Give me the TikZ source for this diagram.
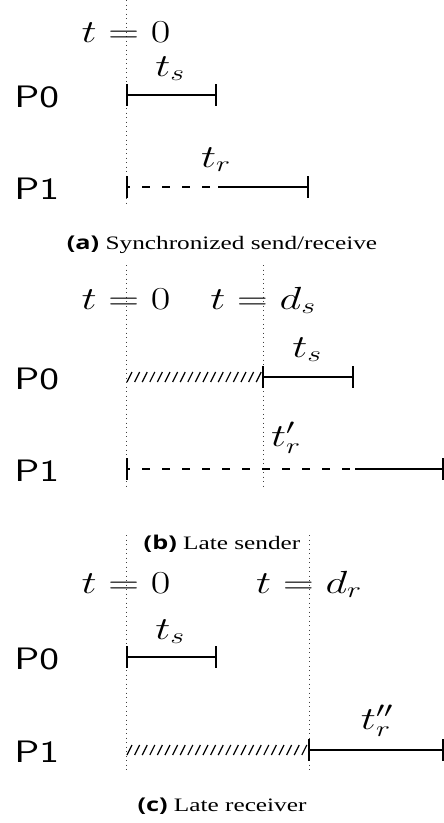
\RequirePackage{fix-cm}
\documentclass[tikz,border=0pt]{standalone}
\usepackage[no-math]{fontspec}
\newfontfamily\capfont{Liberation Serif}
\newfontfamily\lblfont{Open Sans}
\begin{document}
\begin{tikzpicture}[x=1pt,y=-1pt,
  vline/.style={line width=0.9pt, dash pattern=on 0.9pt off 3.6pt, black!75},
  seg/.style={line width=2pt},
  waitline/.style={line width=2pt, dash pattern=on 8pt off 12pt, dash phase=5pt},
  tickmark/.style={line width=2.4pt},
  hatchline/.style={line width=1.2pt},
  mathlbl/.style={inner sep=0pt, font=\fontsize{32}{36}\selectfont, xscale=1.33, transform shape},
  proc/.style={inner sep=0pt, font=\fontsize{31}{36}\selectfont\sffamily, xscale=1.35, transform shape},
  capt/.style={inner sep=0pt, font=\fontsize{19}{22}\selectfont\capfont, xscale=1.33, transform shape}]
\useasboundingbox (0,0) rectangle (444,823);

% ---------------- (a) ----------------
\coordinate (aT) at (126,0);   \coordinate (aB) at (126,205);
\draw[vline] (aT) -- (aB);
\node[mathlbl, anchor=base] (a-t0) at (126,42) {$t = 0$};
\node[proc, anchor=base west] (a-p0) at (14,107) {P0};
\node[proc, anchor=base west] (a-p1) at (14,199) {P1};
\coordinate (a0s) at (127,95);  \coordinate (a0e) at (216,95);
\draw[seg] (a0s) -- (a0e);
\draw[tickmark] (a0s) ++(0,-11) -- ++(0,22);
\draw[tickmark] (a0e) ++(0,-11) -- ++(0,22);
\node[mathlbl, anchor=base] (a-ts) at (170,76) {$t_s$};
\coordinate (a1s) at (127,187); \coordinate (a1m) at (218,187); \coordinate (a1e) at (308,187);
\draw[waitline] (a1s) -- (a1m);
\draw[seg] (a1m) -- (a1e);
\draw[tickmark] (a1s) ++(0,-11) -- ++(0,22);
\draw[tickmark] (a1e) ++(0,-11) -- ++(0,22);
\node[mathlbl, anchor=base] (a-tr) at (216,167) {$t_r$};
\node[capt, anchor=base] (a-cap) at (222,249) {{\lblfont\bfseries (a)} Synchronized send/receive};

% ---------------- (b) ----------------
\coordinate (bT) at (126,265);  \coordinate (bB) at (126,487);
\coordinate (bT2) at (263,265); \coordinate (bB2) at (263,487);
\draw[vline] (bT) -- (bB);
\draw[vline] (bT2) -- (bB2);
\node[mathlbl, anchor=base] (b-t0) at (126,309) {$t = 0$};
\node[mathlbl, anchor=base] (b-tds) at (263,309) {$t = d_s$};
\node[proc, anchor=base west] (b-p0) at (14,389) {P0};
\node[proc, anchor=base west] (b-p1) at (14,481) {P1};
\foreach \x in {127,134.6,...,258} \draw[hatchline] (\x,382) -- (\x+5,372);
\coordinate (b0s) at (263,377); \coordinate (b0e) at (353,377);
\draw[seg] (b0s) -- (b0e);
\draw[tickmark] (b0s) ++(0,-11) -- ++(0,22);
\draw[tickmark] (b0e) ++(0,-11) -- ++(0,22);
\node[mathlbl, anchor=base] (b-ts) at (307,357) {$t_s$};
\coordinate (b1s) at (127,469); \coordinate (b1m) at (355,469); \coordinate (b1e) at (443.5,469);
\draw[waitline] (b1s) -- (b1m);
\draw[seg] (b1m) -- (b1e);
\draw[tickmark] (b1s) ++(0,-11) -- ++(0,22);
\draw[tickmark] (b1e) ++(0,-11) -- ++(0,22);
\node[mathlbl, anchor=base] (b-tr) at (286,446) {$t'_r$};
\node[capt, anchor=base] (b-cap) at (222,549) {{\lblfont\bfseries (b)} Late sender};

% ---------------- (c) ----------------
\coordinate (cT) at (126,535);  \coordinate (cB) at (126,770);
\coordinate (cT2) at (309,535); \coordinate (cB2) at (309,770);
\draw[vline] (cT) -- (cB);
\draw[vline] (cT2) -- (cB2);
\node[mathlbl, anchor=base] (c-t0) at (126,593) {$t = 0$};
\node[mathlbl, anchor=base] (c-tdr) at (309,593) {$t = d_r$};
\node[proc, anchor=base west] (c-p0) at (14,669) {P0};
\node[proc, anchor=base west] (c-p1) at (14,762) {P1};
\coordinate (c0s) at (127,657); \coordinate (c0e) at (216,657);
\draw[seg] (c0s) -- (c0e);
\draw[tickmark] (c0s) ++(0,-11) -- ++(0,22);
\draw[tickmark] (c0e) ++(0,-11) -- ++(0,22);
\node[mathlbl, anchor=base] (c-ts) at (170,639) {$t_s$};
\foreach \x in {127,134.6,...,304} \draw[hatchline] (\x,755) -- (\x+5,745);
\coordinate (c1s) at (309,750); \coordinate (c1e) at (443.5,750);
\draw[seg] (c1s) -- (c1e);
\draw[tickmark] (c1s) ++(0,-11) -- ++(0,22);
\draw[tickmark] (c1e) ++(0,-11) -- ++(0,22);
\node[mathlbl, anchor=base] (c-tr) at (377,729) {$t''_r$};
\node[capt, anchor=base] (c-cap) at (222,811) {{\lblfont\bfseries (c)} Late receiver};
\end{tikzpicture}
\end{document}
